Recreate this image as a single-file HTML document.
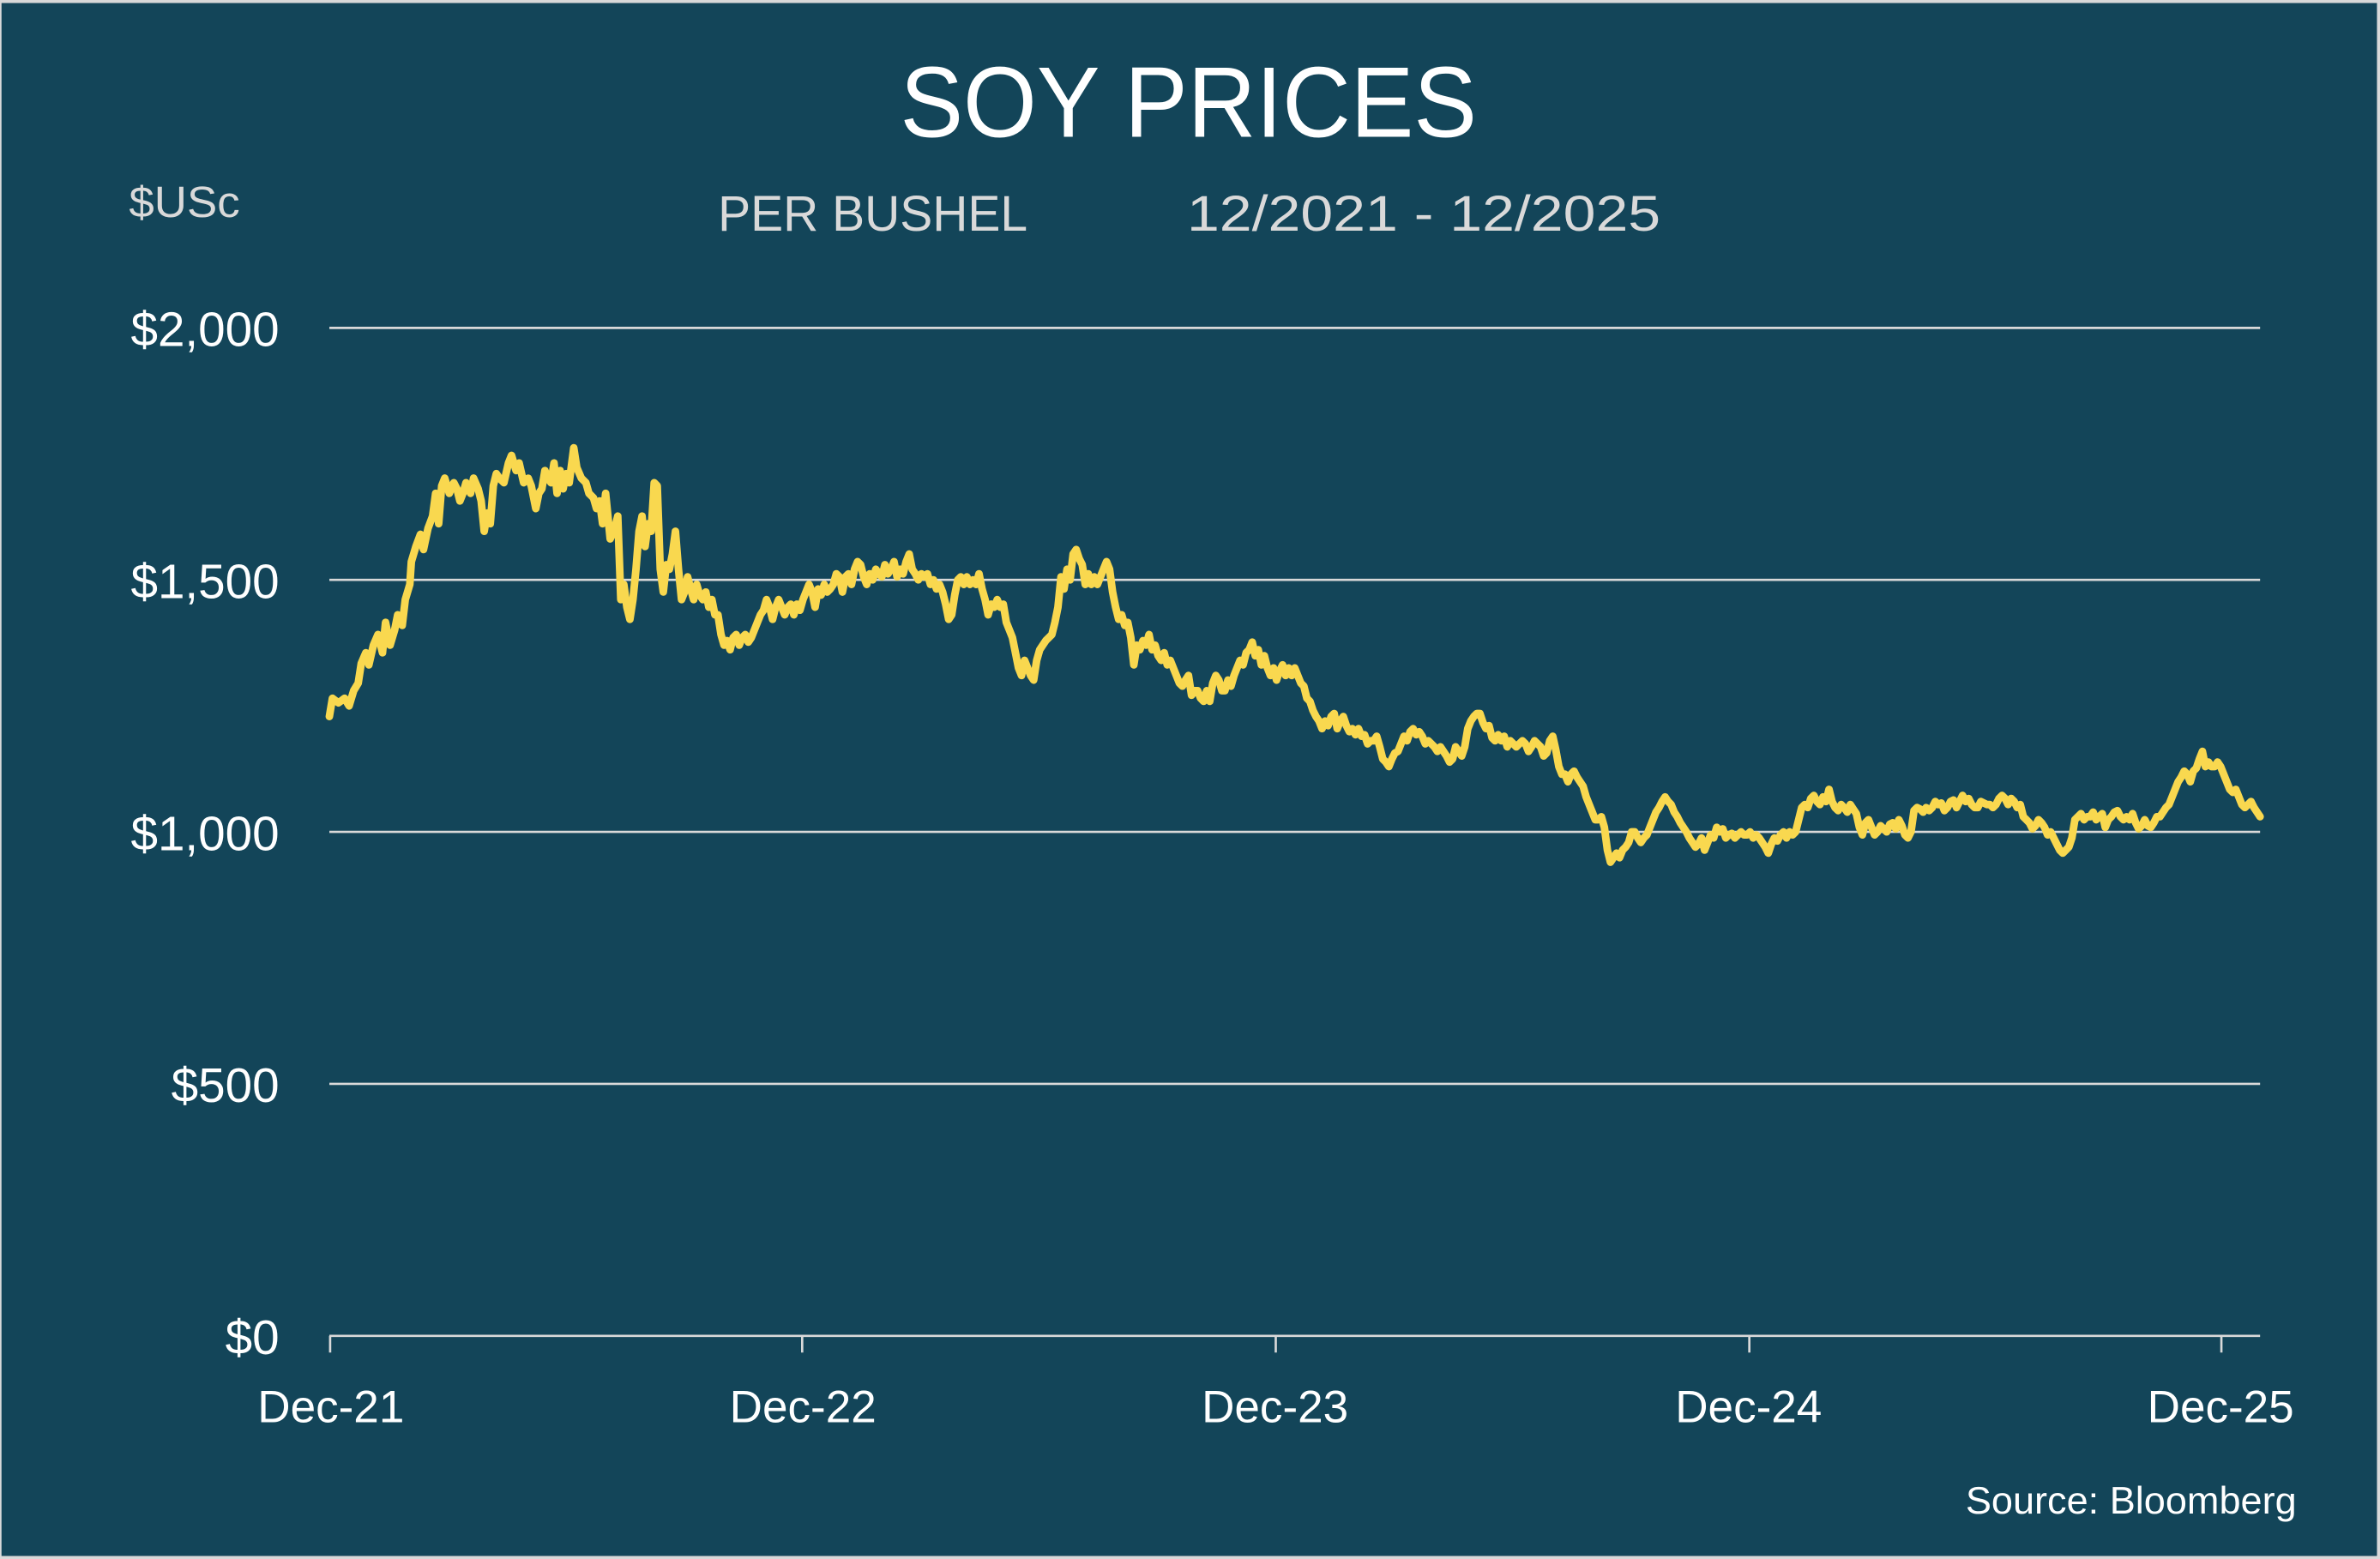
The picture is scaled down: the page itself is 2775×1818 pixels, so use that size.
<!DOCTYPE html>
<html><head><meta charset="utf-8"><style>
html,body{margin:0;padding:0;background:#d9d9d9;width:2775px;height:1818px;overflow:hidden}
svg{display:block}
text{font-family:"Liberation Sans",sans-serif}
</style></head><body>
<svg width="2775" height="1818" viewBox="0 0 1568 1027" preserveAspectRatio="none">
<rect x="0" y="0" width="1568" height="1027" fill="#d9d9d9"/>
<rect x="1" y="2" width="1565" height="1023" fill="#134559"/>
<text x="783" y="90" font-size="66" fill="#fff" text-anchor="middle" textLength="380" lengthAdjust="spacingAndGlyphs">SOY PRICES</text>
<text x="85" y="143" font-size="29" fill="#d9d9d9" textLength="73" lengthAdjust="spacingAndGlyphs">$USc</text>
<text x="473" y="152" font-size="33" fill="#d9d9d9" textLength="204" lengthAdjust="spacingAndGlyphs">PER BUSHEL</text>
<text x="782" y="152" font-size="33" fill="#d9d9d9" textLength="312" lengthAdjust="spacingAndGlyphs">12/2021 - 12/2025</text>
<g stroke="#d9d9d9" stroke-width="1.5">
<line x1="217" y1="216" x2="1489" y2="216"/>
<line x1="217" y1="382" x2="1489" y2="382"/>
<line x1="217" y1="548" x2="1489" y2="548"/>
<line x1="217" y1="714" x2="1489" y2="714"/>
<line x1="217" y1="880" x2="1489" y2="880"/>
<line x1="217.5" y1="880" x2="217.5" y2="891"/>
<line x1="528.5" y1="880" x2="528.5" y2="891"/>
<line x1="840.5" y1="880" x2="840.5" y2="891"/>
<line x1="1152.5" y1="880" x2="1152.5" y2="891"/>
<line x1="1463.5" y1="880" x2="1463.5" y2="891"/>
</g>
<g font-size="32" fill="#fff" text-anchor="end">
<text x="184" y="228">$2,000</text>
<text x="184" y="394">$1,500</text>
<text x="184" y="560">$1,000</text>
<text x="184" y="726">$500</text>
<text x="184" y="892">$0</text>
</g>
<g font-size="30" fill="#fff" text-anchor="middle">
<text x="218" y="937">Dec-21</text>
<text x="529" y="937">Dec-22</text>
<text x="840" y="937">Dec-23</text>
<text x="1152" y="937">Dec-24</text>
<text x="1463" y="937">Dec-25</text>
</g>
<text x="1513" y="997" font-size="25" fill="#fff" text-anchor="end" textLength="218" lengthAdjust="spacingAndGlyphs">Source: Bloomberg</text>
<polyline fill="none" stroke="#f9d84f" stroke-width="5" stroke-linejoin="round" stroke-linecap="round" points="217,472 219,460 223,463 227,460 230,465 233,455 236,450 238,437 241,430 243,438 246,425 249,418 252,430 254,410 257,425 260,415 262,405 265,412 267,395 270,385 271,370 274,360 277,352 279,362 282,348 285,340 287,325 289,345 291,320 293,315 296,325 299,318 301,322 303,330 305,325 307,318 310,325 312,315 315,322 317,330 319,350 321,338 323,345 325,320 327,312 329,315 332,318 335,305 337,300 340,310 342,305 345,318 348,315 350,320 353,335 355,325 357,322 359,310 361,315 363,318 365,305 367,325 369,310 371,322 373,312 375,318 378,295 380,308 383,315 386,318 388,325 391,328 393,335 395,330 397,345 399,325 402,355 405,348 407,340 409,395 411,385 413,400 415,408 417,395 419,375 421,350 423,340 425,360 427,345 429,350 431,318 433,320 435,375 437,390 439,372 441,375 443,365 445,350 447,375 449,395 451,390 453,380 455,388 457,395 459,385 461,392 463,395 465,390 467,400 469,395 471,405 473,405 475,418 477,425 479,422 481,428 483,420 485,418 487,425 489,420 491,418 493,423 495,420 497,415 499,410 501,405 503,402 505,395 507,400 509,408 511,400 513,395 515,400 517,405 519,400 521,398 523,405 525,398 527,402 529,395 531,390 533,385 535,390 537,400 539,388 541,392 543,385 545,390 547,388 549,385 551,378 553,380 555,390 557,380 559,378 561,385 563,375 565,370 567,372 569,380 571,385 573,378 575,382 577,375 579,378 581,380 583,372 585,378 587,375 589,370 591,380 593,375 595,378 597,370 599,365 601,375 603,378 605,382 607,378 609,380 611,378 613,385 615,382 617,388 619,385 621,390 623,398 625,408 627,405 629,392 631,382 633,380 635,385 637,380 639,385 641,382 643,385 645,378 647,388 649,395 651,405 653,398 655,400 657,395 659,400 661,398 663,410 665,415 667,420 669,430 671,440 673,445 675,435 677,440 679,445 681,448 683,435 685,428 687,425 689,422 691,420 693,418 695,410 697,400 699,380 701,388 703,375 705,382 707,365 709,362 711,368 713,372 715,385 717,378 719,385 721,380 723,385 725,380 727,375 729,370 731,375 733,390 735,400 737,408 739,405 741,412 743,410 745,420 747,438 749,425 751,428 753,422 755,425 757,418 759,428 761,425 763,432 765,435 767,430 769,438 771,435 773,440 775,445 777,450 779,452 781,448 783,445 785,458 787,455 789,455 791,460 793,462 795,455 797,462 799,450 801,445 803,448 805,455 807,455 809,448 811,452 813,445 815,440 817,435 819,438 821,430 823,428 825,423 827,432 829,428 831,438 833,432 835,440 837,445 839,440 841,448 843,442 845,438 847,445 849,440 851,445 853,440 855,445 857,450 859,452 861,460 863,462 865,468 867,472 869,475 871,480 873,475 875,478 877,472 879,470 881,480 883,475 885,472 887,478 889,482 891,480 893,484 895,480 897,485 899,484 901,490 903,488 905,488 907,485 909,492 911,500 913,502 915,505 917,500 919,496 921,495 923,490 925,485 927,488 929,482 931,480 933,484 935,482 937,485 939,490 941,488 943,490 945,492 947,495 949,492 951,495 953,498 955,502 957,500 959,492 961,495 963,498 965,492 967,480 969,475 971,472 973,470 975,470 977,476 979,480 981,478 983,486 985,488 987,484 989,488 991,485 993,492 995,488 997,490 999,492 1001,490 1003,488 1005,490 1007,495 1009,492 1011,488 1013,490 1015,492 1017,498 1019,496 1021,488 1023,485 1025,494 1027,505 1029,510 1031,510 1033,515 1035,510 1037,508 1039,512 1041,515 1043,518 1045,525 1047,530 1049,535 1051,540 1053,540 1055,538 1057,545 1059,560 1061,568 1063,565 1065,562 1067,565 1069,560 1071,558 1073,555 1075,548 1077,548 1079,552 1081,555 1083,552 1085,550 1087,545 1089,540 1091,535 1093,532 1095,528 1097,525 1099,528 1101,530 1103,535 1105,538 1107,542 1109,545 1111,548 1113,552 1115,555 1117,558 1119,556 1121,552 1123,560 1125,555 1127,550 1129,552 1131,545 1133,548 1135,546 1137,552 1139,550 1141,549 1143,552 1145,550 1147,548 1149,550 1151,550 1153,548 1155,552 1157,550 1159,552 1161,555 1163,558 1165,562 1167,556 1169,552 1171,554 1173,550 1175,548 1177,552 1179,548 1181,550 1183,548 1185,540 1187,532 1189,530 1191,532 1193,526 1195,524 1197,528 1199,530 1201,525 1203,528 1205,520 1207,528 1209,532 1211,534 1213,530 1215,532 1217,535 1219,530 1221,533 1223,536 1225,545 1227,550 1229,542 1231,540 1233,545 1235,550 1237,548 1239,544 1241,546 1243,548 1245,543 1247,542 1249,546 1251,540 1253,544 1255,550 1257,552 1259,548 1261,534 1263,532 1265,533 1267,535 1269,532 1271,534 1273,532 1275,528 1277,530 1279,529 1281,534 1283,532 1285,528 1287,527 1289,532 1291,528 1293,524 1295,528 1297,526 1299,530 1301,532 1303,532 1305,528 1307,529 1309,530 1311,530 1313,532 1315,530 1317,526 1319,524 1321,526 1323,530 1325,526 1327,528 1329,532 1331,530 1333,538 1335,540 1337,542 1339,546 1341,544 1343,540 1345,542 1347,545 1349,550 1351,548 1353,552 1355,556 1357,560 1359,562 1361,560 1363,558 1365,552 1367,540 1369,538 1371,536 1373,540 1375,538 1377,538 1379,535 1381,540 1383,538 1385,536 1387,545 1389,540 1391,538 1393,535 1395,534 1397,538 1399,540 1401,538 1403,540 1405,536 1407,542 1409,546 1411,544 1413,540 1415,544 1417,545 1419,542 1421,538 1423,538 1425,535 1427,532 1429,530 1431,525 1433,520 1435,515 1437,512 1439,508 1441,510 1443,515 1445,508 1447,506 1449,500 1451,495 1453,505 1455,502 1457,505 1459,505 1461,502 1463,505 1465,510 1467,515 1469,520 1471,522 1473,520 1475,525 1477,530 1479,532 1481,530 1483,528 1485,532 1487,535 1489,538"/>
</svg>
</body></html>
